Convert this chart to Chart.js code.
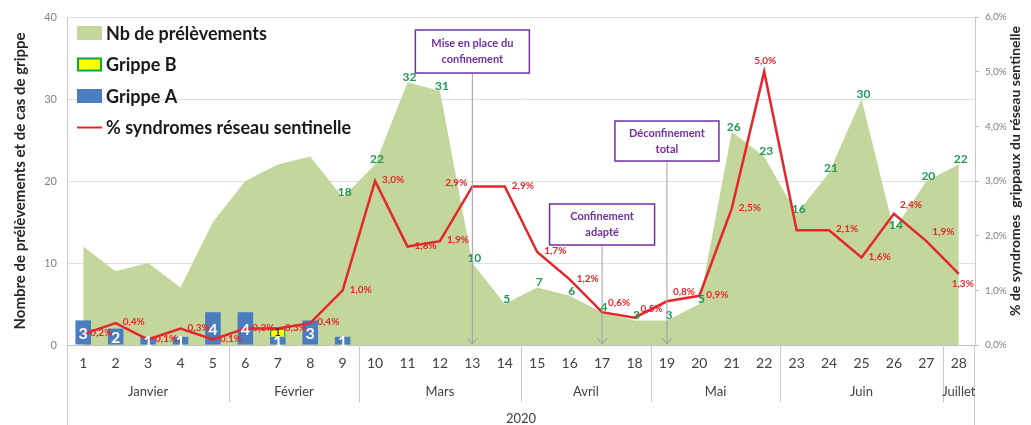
<!DOCTYPE html>
<html>
<head>
<meta charset="utf-8">
<script src="https://cdn.jsdelivr.net/npm/chart.js@4.4.1/dist/chart.umd.min.js"></script>
<style>
  html, body { margin: 0; padding: 0; background: #fff; }
</style>
</head>
<body>
<canvas id="chart" width="1031" height="425"></canvas>
<script>
// semaines 2020
const weeks = ['1','2','3','4','5','6','7','8','9','10','11','12','13','14','15','16','17','18','19','20','21','22','23','24','25','26','27','28'];
const prelevements = [12, 9, 10, 7, 15, 20, 22, 23, 18, 22, 32, 31, 10, 5, 7, 6, 4, 3, 3, 5, 26, 23, 16, 21, 30, 14, 20, 22];
const grippeA = [3, 2, 1, 1, 4, 4, 1, 3, 1, null, null, null, null, null, null, null, null, null, null, null, null, null, null, null, null, null, null, null];
const grippeB = [null, null, null, null, null, null, 1, null, null, null, null, null, null, null, null, null, null, null, null, null, null, null, null, null, null, null, null, null];
const syndromes = [0.2, 0.4, 0.1, 0.3, 0.1, 0.3, 0.3, 0.4, 1.0, 3.0, 1.8, 1.9, 2.9, 2.9, 1.7, 1.2, 0.6, 0.5, 0.8, 0.9, 2.5, 5.0, 2.1, 2.1, 1.6, 2.4, 1.9, 1.3];

// axe des x a deux niveaux
const months = ['Janvier', 'Février', 'Mars', 'Avril', 'Mai', 'Juin', 'Juillet'];
const monthFirstWeek = [1, 6, 10, 15, 19, 23, 28];
const year = '2020';

// evenements
const eventLabels = [['Mise en place du', 'confinement'], ['Confinement', 'adapté'], ['Déconfinement', 'total']];
const eventWeeks = ['13', '17', '19'];

// style
const FONT = 'Lato, "Open Sans", sans-serif';
const areaColor = '#c3d69b';
const blue = '#4a7cbf';
const red = '#e5272b';
const green = '#1f9a52';
const purple = '#7030a0';
const eventBoxes = [{ top: 30, w: 114, h: 43 }, { top: 204, w: 105, h: 41 }, { top: 121, w: 104, h: 40 }];
// position des etiquettes % (r = droite par defaut)
const pctLabelPos = { 12: 'l', 16: 'tr', 17: 'tr', 18: 'tr', 21: 't', 25: 'tr', 26: 'tr', 27: 'b' };
const pctLabelHidden = [22];
const areaLabelFrom = 8;

const fmtPct = v => v.toFixed(1).replace('.', ',') + '%';

const decor = {
  id: 'decor',
  afterDraw(chart) {
    const ctx = chart.ctx;
    const a = chart.chartArea;
    const x = chart.scales.x, y = chart.scales.y, y1 = chart.scales.y1;
    const H = chart.height;
    const cw = x.width / weeks.length;
    ctx.save();

    // etiquettes des barres
    ctx.textAlign = 'center';
    ctx.textBaseline = 'middle';
    const metaA = chart.getDatasetMeta(1), metaB = chart.getDatasetMeta(2);
    grippeA.forEach((v, i) => {
      if (!v) return;
      const bar = metaA.data[i];
      ctx.font = 'bold 16px ' + FONT;
      ctx.fillStyle = '#fff';
      ctx.fillText(String(v), bar.x, (bar.y + bar.base) / 2 + 1);
    });
    grippeB.forEach((v, i) => {
      if (!v) return;
      const bar = metaB.data[i];
      ctx.font = 'bold 11px ' + FONT;
      ctx.fillStyle = '#333';
      ctx.fillText(String(v), bar.x, (bar.y + bar.base) / 2);
    });

    // etiquettes de la surface
    ctx.font = 'bold 12px ' + FONT;
    ctx.fillStyle = green;
    prelevements.forEach((v, i) => {
      if (i < areaLabelFrom) return;
      ctx.fillText(String(v), x.getPixelForValue(i) + 2, y.getPixelForValue(v) - 5);
    });

    // etiquettes %
    ctx.font = 'bold 10px ' + FONT;
    ctx.fillStyle = red;
    syndromes.forEach((v, i) => {
      if (pctLabelHidden.includes(i)) return;
      const px = x.getPixelForValue(i), py = y1.getPixelForValue(v);
      const pos = pctLabelPos[i] || 'r';
      const t = fmtPct(v);
      if (pos === 'r') { ctx.textAlign = 'left'; ctx.fillText(t, px + 7, py - 1); }
      else if (pos === 'tr') { ctx.textAlign = 'left'; ctx.fillText(t, px + 6, py - 9); }
      else if (pos === 't') { ctx.textAlign = 'center'; ctx.fillText(t, px + 1, py - 11); }
      else if (pos === 'l') { ctx.textAlign = 'right'; ctx.fillText(t, px - 5, py - 4); }
      else if (pos === 'b') { ctx.textAlign = 'center'; ctx.fillText(t, px + 4, py + 10); }
    });

    // evenements
    eventWeeks.forEach((w, i) => {
      const px = x.getPixelForValue(weeks.indexOf(w));
      const b = eventBoxes[i];
      const bottom = b.top + b.h;
      ctx.strokeStyle = '#9c9cb0';
      ctx.lineWidth = 1;
      ctx.beginPath();
      ctx.moveTo(px, bottom);
      ctx.lineTo(px, a.bottom - 1);
      ctx.moveTo(px - 5, a.bottom - 7);
      ctx.lineTo(px, a.bottom - 1);
      ctx.lineTo(px + 5, a.bottom - 7);
      ctx.stroke();
      ctx.fillStyle = '#fff';
      ctx.fillRect(px - b.w / 2, b.top, b.w, b.h);
      ctx.strokeStyle = purple;
      ctx.lineWidth = 1.5;
      ctx.strokeRect(px - b.w / 2, b.top, b.w, b.h);
      ctx.fillStyle = purple;
      ctx.font = 'bold 11px ' + FONT;
      ctx.textAlign = 'center';
      ctx.fillText(eventLabels[i][0], px, b.top + b.h / 2 - 8);
      ctx.fillText(eventLabels[i][1], px, b.top + b.h / 2 + 8);
    });

    // mois et annee sous l'axe
    ctx.strokeStyle = '#c8c8c8';
    ctx.lineWidth = 1;
    ctx.beginPath();
    ctx.moveTo(a.left + 0.5, a.bottom); ctx.lineTo(a.left + 0.5, H);
    ctx.moveTo(a.right - 0.5, a.bottom); ctx.lineTo(a.right - 0.5, H);
    monthFirstWeek.forEach((w, i) => {
      if (i === 0) return;
      const sx = Math.round(x.getPixelForValue(w - 1) - cw / 2) + 0.5;
      ctx.moveTo(sx, a.bottom); ctx.lineTo(sx, a.bottom + 57);
    });
    ctx.stroke();
    ctx.fillStyle = '#404040';
    ctx.font = '13px ' + FONT;
    ctx.textAlign = 'center';
    months.forEach((m, i) => {
      const s = monthFirstWeek[i] - 1;
      const e = i < months.length - 1 ? monthFirstWeek[i + 1] - 2 : weeks.length - 1;
      const cx = (x.getPixelForValue(s) + x.getPixelForValue(e)) / 2;
      ctx.fillText(m, cx, a.bottom + 47);
    });
    ctx.fillText(year, (a.left + a.right) / 2, a.bottom + 74);

    // titre axe droit
    ctx.save();
    ctx.translate(1015, (a.top + a.bottom) / 2 - 10);
    ctx.rotate(-Math.PI / 2);
    ctx.font = 'bold 14px ' + FONT;
    ctx.fillStyle = '#262626';
    ctx.fillText('% de syndromes  grippaux du réseau sentinelle', 0, 0);
    ctx.restore();

    // legende
    const items = [
      { label: 'Nb de prélèvements', fill: areaColor },
      { label: 'Grippe B', fill: '#ffff00', stroke: '#00b050' },
      { label: 'Grippe A', fill: blue },
      { label: '% syndromes réseau sentinelle', line: red }
    ];
    ctx.font = 'bold 18px ' + FONT;
    ctx.textAlign = 'left';
    items.forEach((it, i) => {
      const cy = 33 + i * 31.5;
      if (it.line) {
        ctx.strokeStyle = it.line;
        ctx.lineWidth = 2;
        ctx.beginPath();
        ctx.moveTo(77, cy); ctx.lineTo(102, cy);
        ctx.stroke();
      } else {
        ctx.fillStyle = it.fill;
        ctx.fillRect(77, cy - 7, 25, 14);
        if (it.stroke) {
          ctx.strokeStyle = it.stroke;
          ctx.lineWidth = 2;
          ctx.strokeRect(78, cy - 6, 23, 12);
        }
      }
      ctx.fillStyle = '#1a1a1a';
      ctx.fillText(it.label, 106, cy + 1);
    });

    ctx.restore();
  }
};

new Chart(document.getElementById('chart'), {
  type: 'bar',
  data: {
    labels: weeks,
    datasets: [
      {
        type: 'line',
        label: '% syndromes réseau sentinelle',
        data: syndromes,
        yAxisID: 'y1',
        borderColor: red,
        borderWidth: 2.5,
        pointRadius: 0,
        tension: 0,
        order: 0
      },
      {
        label: 'Grippe A',
        data: grippeA,
        yAxisID: 'y',
        backgroundColor: blue,
        stack: 'grippe',
        barPercentage: 0.48,
        categoryPercentage: 1,
        order: 1
      },
      {
        label: 'Grippe B',
        data: grippeB,
        yAxisID: 'y',
        backgroundColor: '#ffff00',
        borderColor: '#00b050',
        borderWidth: 1.5,
        stack: 'grippe',
        barPercentage: 0.48,
        categoryPercentage: 1,
        order: 1
      },
      {
        type: 'line',
        label: 'Nb de prélèvements',
        data: prelevements,
        yAxisID: 'y',
        backgroundColor: areaColor,
        borderWidth: 0,
        borderColor: areaColor,
        pointRadius: 0,
        fill: 'origin',
        tension: 0,
        order: 3
      }
    ]
  },
  options: {
    responsive: false,
    animation: false,
    devicePixelRatio: 1,
    layout: { padding: { top: 17, left: 0, right: 0, bottom: 0 } },
    plugins: {
      legend: { display: false },
      tooltip: { enabled: false }
    },
    scales: {
      x: {
        stacked: true,
        offset: true,
        grid: { display: false, drawTicks: false },
        border: { color: '#bfbfbf' },
        ticks: { color: '#404040', font: { family: FONT, size: 14 }, padding: 10, maxRotation: 0, autoSkip: false },
        afterFit: s => { s.height = 80; }
      },
      y: {
        position: 'left',
        stacked: true,
        min: 0,
        max: 40,
        ticks: { stepSize: 10, color: '#808080', font: { family: FONT, size: 11 }, padding: 10 },
        grid: { color: '#dedede', drawTicks: false },
        border: { color: '#c8c8c8' },
        title: {
          display: true,
          text: 'Nombre de prélèvements et de cas de grippe',
          color: '#262626',
          font: { family: FONT, size: 15, weight: 'bold' },
          padding: { top: 11, bottom: 0 }
        },
        afterFit: s => { s.width = 67; }
      },
      y1: {
        position: 'right',
        min: 0,
        max: 6,
        ticks: { stepSize: 1, color: '#808080', font: { family: FONT, size: 10 }, padding: 6, callback: v => fmtPct(v) },
        grid: { drawOnChartArea: false, color: '#bfbfbf', tickLength: 4 },
        border: { color: '#c8c8c8' },
        afterFit: s => { s.width = 56; }
      }
    }
  },
  plugins: [decor]
});
</script>
</body>
</html>
